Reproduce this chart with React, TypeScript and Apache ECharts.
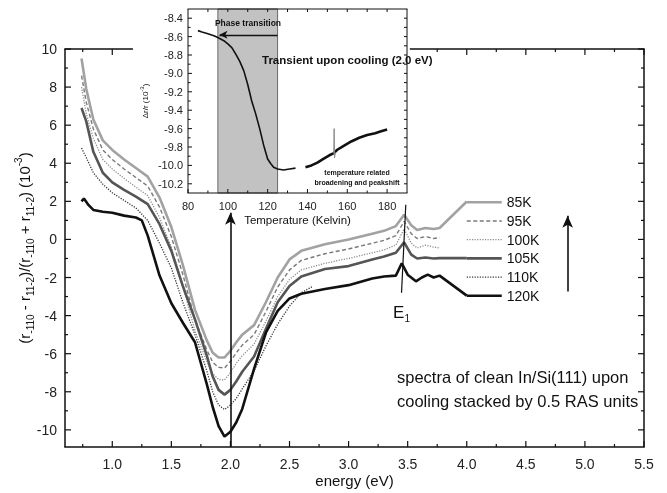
import React, { useEffect, useRef } from "react";
import * as echarts from "echarts";

// ---------- main spectra (energy in eV, RAS in 10^-3) ----------
const energyGrid = [0.74, 0.78, 0.84, 0.92, 1.0, 1.1, 1.2, 1.3, 1.4, 1.5, 1.6, 1.7, 1.8, 1.85, 1.9, 1.95, 2.0, 2.05, 2.1, 2.2, 2.3, 2.4, 2.5, 2.6, 2.8, 3.0, 3.2, 3.3, 3.4, 3.47, 3.53, 3.58, 3.65, 3.72, 3.77];
const ras85 = [9.5, 7.9, 6.3, 5.2, 4.7, 4.2, 3.75, 3.3, 2.2, 0.65, -1.4, -3.7, -5.3, -5.95, -6.2, -6.2, -5.85, -5.4, -5.0, -4.5, -3.3, -2.0, -1.05, -0.6, -0.25, 0.0, 0.3, 0.45, 0.7, 1.3, 0.75, 0.5, 0.6, 0.55, 0.6];
const ras95 = [8.6, 7.2, 5.8, 4.7, 4.2, 3.7, 3.25, 2.8, 1.7, 0.15, -1.9, -4.2, -5.8, -6.45, -6.72, -6.75, -6.4, -5.95, -5.55, -5.0, -3.8, -2.5, -1.6, -1.1, -0.75, -0.5, -0.2, -0.05, 0.2, 0.95, 0.3, 0.05, 0.15, 0.05, 0.1];
const ras100 = [8.0, 6.6, 5.3, 4.2, 3.7, 3.2, 2.75, 2.3, 1.15, -0.4, -2.5, -4.8, -6.4, -7.05, -7.35, -7.38, -7.0, -6.5, -6.1, -5.5, -4.3, -3.0, -2.1, -1.6, -1.25, -1.0, -0.7, -0.55, -0.3, 0.55, -0.2, -0.45, -0.3, -0.4, -0.45];
const ras105 = [6.9, 6.2, 4.6, 3.5, 3.0, 2.6, 2.25, 1.85, 0.8, -0.6, -2.5, -4.2, -6.1, -7.2, -7.9, -8.15, -7.9, -7.45, -6.95, -6.15, -4.7, -3.3, -2.45, -1.95, -1.55, -1.4, -1.05, -0.9, -0.7, -0.15, -0.8, -1.0, -0.95, -1.0, -0.98];

const energy110 = [0.74, 0.78, 0.84, 0.92, 1.0, 1.1, 1.2, 1.3, 1.4, 1.5, 1.6, 1.7, 1.8, 1.85, 1.9, 1.95, 2.0, 2.05, 2.1, 2.2, 2.3, 2.4, 2.5, 2.6, 2.7];
const ras110 = [4.8, 4.3, 3.5, 2.9, 2.45, 2.05, 1.65, 1.0, -0.2, -1.5, -3.35, -5.0, -6.9, -8.0, -8.7, -8.93, -8.7, -8.35, -7.85, -6.9, -5.6, -4.45, -3.5, -2.8, -2.45];

const energy120 = [0.74, 0.76, 0.8, 0.84, 0.92, 1.0, 1.1, 1.2, 1.25, 1.3, 1.35, 1.4, 1.5, 1.6, 1.7, 1.8, 1.85, 1.9, 1.95, 2.0, 2.05, 2.1, 2.2, 2.3, 2.4, 2.5, 2.6, 2.8, 3.0, 3.2, 3.3, 3.4, 3.45, 3.5, 3.57, 3.62, 3.67, 3.72, 3.77];
const ras120 = [2.0, 2.15, 1.8, 1.55, 1.45, 1.4, 1.25, 1.15, 1.0, 0.2, -0.85, -1.9, -3.35, -4.4, -5.4, -7.6, -8.8, -9.8, -10.35, -10.1, -9.6, -8.9, -6.8, -4.9, -3.75, -3.1, -2.85, -2.6, -2.4, -2.05, -1.95, -1.9, -1.25, -1.85, -2.2, -2.0, -1.85, -2.0, -1.9];

// connecting segments from the curves to the legend samples
const tailEnergy85 = [4.0];
const tailRas85 = [1.99];
const tailEnergy105 = [4.0];
const tailRas105 = [-0.98];
const tailEnergy120 = [4.0];
const tailRas120 = [-2.95];

const seriesNames = ["85K", "95K", "100K", "105K", "110K", "120K"];
const seriesColors = ["#a2a2a2", "#7a7a7a", "#8c8c8c", "#555555", "#333333", "#111111"];
const seriesWidths = [2.6, 1.4, 1.3, 2.6, 1.3, 2.6];
const seriesDash: (number[] | null)[] = [null, [4, 2.5], [1.2, 1.4], null, [1.2, 1.4], null];

// axis ticks
const xMajor = [1.0, 1.5, 2.0, 2.5, 3.0, 3.5, 4.0, 4.5, 5.0, 5.5];
const xMinor = [0.75, 1.25, 1.75, 2.25, 2.75, 3.25, 3.75, 4.25, 4.75, 5.25];
const yMajor = [-10, -8, -6, -4, -2, 0, 2, 4, 6, 8, 10];
const yMinor = [-9, -7, -5, -3, -1, 1, 3, 5, 7, 9];

// ---------- inset: transient upon cooling ----------
const tempCool1 = [85, 87, 90, 93, 95, 98, 100, 102, 104, 106, 108, 110, 112, 114, 116, 118, 120, 121.5, 123, 125, 128, 131, 134];
const drCool1 = [-8.535, -8.55, -8.57, -8.59, -8.61, -8.645, -8.68, -8.72, -8.79, -8.87, -8.97, -9.12, -9.3, -9.44, -9.6, -9.78, -9.93, -9.98, -10.02, -10.04, -10.05, -10.04, -10.03];
const tempCool2 = [139, 142, 145, 148, 151, 153, 155, 158, 162, 166, 170, 174, 177, 180];
const drCool2 = [-10.02, -10.0, -9.97, -9.93, -9.89, -9.87, -9.83, -9.79, -9.74, -9.7, -9.67, -9.65, -9.63, -9.61];
const tempSpike = [153.2, 153.4, 153.6, 154.0];
const drSpike = [-9.87, -9.6, -9.92, -9.86];
const phaseBand = [95, 125];

const tMajor = [80, 100, 120, 140, 160, 180];
const tMinor = [90, 110, 130, 150, 170];
const tTop = [90, 100, 110, 120, 130, 140, 150, 160, 170, 180];
const dMajor = [-10.2, -10.0, -9.8, -9.6, -9.4, -9.2, -9.0, -8.8, -8.6, -8.4];
const dMinor = [-10.1, -9.9, -9.7, -9.5, -9.3, -9.1, -8.9, -8.7, -8.5];
const dRight = [-10.2, -10.1, -10.0, -9.9, -9.8, -9.7, -9.6, -9.5, -9.4, -9.3, -9.2, -9.1, -9.0, -8.9, -8.8, -8.7, -8.6, -8.5, -8.4];

const FONT = '"Liberation Sans", Arial, Helvetica, sans-serif';
const INK = "#111111";

// axis extents and grid boxes
const MAIN = { xMin: 0.6, xMax: 5.5, yMin: -10.9, yMax: 10, left: 65, right: 23, top: 49, bottom: 46 };
const INSET = { xMin: 80, xMax: 190, yMin: -10.3, yMax: -8.3, left: 188, right: 260, top: 9, bottom: 300 };
const W = 667;
const H = 493;
// the main frame's top edge is hidden behind the inset between these energies
const TOP_GAP = [1.175, 3.518];

function pairs(xs: number[], ys: number[]) {
  return xs.map((x, i) => [x, ys[i]]);
}

export default function App() {
  const ref = useRef<HTMLDivElement>(null);

  useEffect(() => {
    const chart = echarts.init(ref.current!, null, { renderer: "svg" });

    const arrowStyle = { color: INK, width: 1.6, type: "solid" };

    const mainSeries = seriesNames.map((name, i) => {
      let data: number[][];
      if (name === "85K") data = [...pairs(energyGrid, ras85), ...pairs(tailEnergy85, tailRas85)];
      else if (name === "95K") data = pairs(energyGrid, ras95);
      else if (name === "100K") data = pairs(energyGrid, ras100);
      else if (name === "105K") data = [...pairs(energyGrid, ras105), ...pairs(tailEnergy105, tailRas105)];
      else if (name === "110K") data = pairs(energy110, ras110);
      else data = [...pairs(energy120, ras120), ...pairs(tailEnergy120, tailRas120)];
      const s: any = {
        name,
        type: "line",
        xAxisIndex: 0,
        yAxisIndex: 0,
        symbol: "none",
        data,
        lineStyle: { color: seriesColors[i], width: seriesWidths[i], type: seriesDash[i] || "solid" },
        itemStyle: { color: seriesColors[i] },
      };
      if (name === "120K") {
        s.markLine = {
          silent: true,
          animation: false,
          symbol: ["none", "none"],
          label: { show: false },
          data: [
            [
              { coord: [2.0, MAIN.yMin], symbol: "none", lineStyle: arrowStyle },
              { coord: [2.0, 1.4], symbol: "arrow", symbolSize: [8, 12] },
            ],
            [
              { coord: [4.854, -2.74], symbol: "none", lineStyle: arrowStyle },
              { coord: [4.854, 1.24], symbol: "arrow", symbolSize: [8, 12] },
            ],
            [
              { coord: [3.484, 1.82], symbol: "none", lineStyle: { color: INK, width: 1.2, type: "solid" } },
              { coord: [3.448, -2.8], symbol: "none" },
            ],
          ],
        };
      }
      return s;
    });

    const hidden = { show: false, onZero: false };

    const option: any = {
      animation: false,
      grid: [
        { left: MAIN.left, right: MAIN.right, top: MAIN.top, bottom: MAIN.bottom },
        { left: INSET.left, right: INSET.right, top: INSET.top, bottom: INSET.bottom },
      ],
      xAxis: [
        {
          type: "value",
          gridIndex: 0,
          min: MAIN.xMin,
          max: MAIN.xMax,
          position: "bottom",
          axisLine: hidden,
          axisTick: { show: false },
          splitLine: { show: false },
          axisLabel: {
            show: true,
            customValues: xMajor,
            formatter: (v: number) => v.toFixed(1),
            fontSize: 14,
            fontFamily: FONT,
            color: "#222",
            margin: 10,
          },
          name: "energy (eV)",
          nameLocation: "middle",
          nameGap: 26,
          nameMoveOverlap: false,
          nameTextStyle: { fontSize: 15, color: INK, fontFamily: FONT },
        },
        {
          type: "value",
          gridIndex: 1,
          min: INSET.xMin,
          max: INSET.xMax,
          position: "bottom",
          axisLine: hidden,
          axisTick: { show: false },
          splitLine: { show: false },
          axisLabel: {
            show: true,
            customValues: tMajor,
            formatter: (v: number) => String(v),
            fontSize: 11,
            fontFamily: FONT,
            color: "#222",
            margin: 7,
          },
          name: "Temperature (Kelvin)",
          nameLocation: "middle",
          nameGap: 21,
          nameMoveOverlap: false,
          nameTextStyle: { fontSize: 11.5, color: INK, fontFamily: FONT },
        },
      ],
      yAxis: [
        {
          type: "value",
          gridIndex: 0,
          min: MAIN.yMin,
          max: MAIN.yMax,
          position: "left",
          axisLine: hidden,
          axisTick: { show: false },
          splitLine: { show: false },
          axisLabel: {
            show: true,
            customValues: yMajor,
            formatter: (v: number) => String(v),
            fontSize: 14,
            fontFamily: FONT,
            color: "#222",
            margin: 8,
          },
          name: "(r{sub|-110} - r{sub|11-2})/(r{sub|-110} + r{sub|11-2}) (10{sup|-3})",
          nameLocation: "middle",
          nameRotate: 90,
          nameGap: 30,
          nameMoveOverlap: false,
          nameTextStyle: {
            fontSize: 15,
            fontFamily: FONT,
            color: INK,
            lineHeight: 22,
            rich: {
              sub: { fontSize: 10, fontFamily: FONT, verticalAlign: "bottom", color: INK },
              sup: { fontSize: 10, fontFamily: FONT, verticalAlign: "top", color: INK },
            },
          },
        },
        {
          type: "value",
          gridIndex: 1,
          min: INSET.yMin,
          max: INSET.yMax,
          position: "left",
          axisLine: hidden,
          axisTick: { show: false },
          splitLine: { show: false },
          axisLabel: {
            show: true,
            customValues: dMajor,
            formatter: (v: number) => v.toFixed(1),
            fontSize: 11,
            fontFamily: FONT,
            color: "#222",
            margin: 5,
          },
          name: "\u0394r/r (10{sup|-3})",
          nameLocation: "middle",
          nameRotate: 90,
          nameGap: 37,
          nameMoveOverlap: false,
          nameTextStyle: {
            fontSize: 8,
            fontFamily: FONT,
            color: INK,
            lineHeight: 12,
            rich: { sup: { fontSize: 6, fontFamily: FONT, verticalAlign: "top", color: INK } },
          },
        },
      ],
      series: [
        ...mainSeries,
        {
          name: "cooling transient",
          type: "line",
          xAxisIndex: 1,
          yAxisIndex: 1,
          z: 11,
          symbol: "none",
          data: pairs(tempCool1, drCool1),
          lineStyle: { color: INK, width: 1.6 },
          itemStyle: { color: INK },
          markArea: {
            silent: true,
            itemStyle: { color: "#c2c2c2", borderColor: "#6a6a6a", borderWidth: 1 },
            data: [[{ xAxis: phaseBand[0], yAxis: INSET.yMin }, { xAxis: phaseBand[1], yAxis: INSET.yMax }]],
          },
          markLine: {
            silent: true,
            animation: false,
            symbol: ["none", "none"],
            label: { show: false },
            data: [
              [
                { coord: [phaseBand[1], -8.58], symbol: "none", lineStyle: { color: INK, width: 1.3, type: "solid" } },
                { coord: [phaseBand[0] + 0.8, -8.58], symbol: "arrow", symbolSize: [6, 8] },
              ],
            ],
          },
        },
        {
          name: "cooling transient 2",
          type: "line",
          xAxisIndex: 1,
          yAxisIndex: 1,
          z: 11,
          symbol: "none",
          data: pairs(tempCool2, drCool2),
          lineStyle: { color: INK, width: 2.6 },
        },
        {
          name: "spike",
          type: "line",
          xAxisIndex: 1,
          yAxisIndex: 1,
          z: 12,
          symbol: "none",
          data: pairs(tempSpike, drSpike),
          lineStyle: { color: "#8a8a8a", width: 1 },
        },
      ],
    };

    chart.setOption(option);

    // ---- pixel positions through the grid's scales (linear fallback) ----
    const toPix = (gi: number, box: typeof MAIN, x: number, y: number): [number, number] => {
      let p: any = null;
      try {
        p = chart.convertToPixel({ gridIndex: gi } as any, [x, y]);
      } catch (e) {
        p = null;
      }
      if (p && isFinite(p[0]) && isFinite(p[1])) return [p[0], p[1]];
      const gw = W - box.left - box.right;
      const gh = H - box.top - box.bottom;
      return [
        box.left + ((x - box.xMin) / (box.xMax - box.xMin)) * gw,
        box.top + ((box.yMax - y) / (box.yMax - box.yMin)) * gh,
      ];
    };

    const g: any[] = [];
    const seg = (x1: number, y1: number, x2: number, y2: number, w: number) =>
      g.push({
        type: "line",
        zlevel: 1,
        z: 100,
        silent: true,
        shape: { x1, y1, x2, y2 },
        style: { stroke: INK, lineWidth: w },
      });

    // main frame (top edge interrupted by the inset) and inward ticks
    const [L, T] = toPix(0, MAIN, MAIN.xMin, MAIN.yMax);
    const [R, B] = toPix(0, MAIN, MAIN.xMax, MAIN.yMin);
    const gapL = toPix(0, MAIN, TOP_GAP[0], 0)[0];
    const gapR = toPix(0, MAIN, TOP_GAP[1], 0)[0];
    seg(L - 0.75, T, gapL, T, 1.5);
    seg(gapR, T, R + 0.75, T, 1.5);
    seg(L, T, L, B, 1.5);
    seg(R, T, R, B, 1.5);
    seg(L - 0.75, B, R + 0.75, B, 1.5);
    const xt = (v: number, len: number) => {
      const x = toPix(0, MAIN, v, 0)[0];
      seg(x, B, x, B - len, 1.2);
      if (x < gapL || x > gapR) seg(x, T, x, T + len, 1.2);
    };
    xMajor.forEach((v) => xt(v, 6));
    xMinor.forEach((v) => xt(v, 3));
    const yt = (v: number, len: number) => {
      const y = toPix(0, MAIN, MAIN.xMin, v)[1];
      seg(L, y, L + len, y, 1.2);
      seg(R, y, R - len, y, 1.2);
    };
    yMajor.forEach((v) => yt(v, 6));
    yMinor.forEach((v) => yt(v, 3));

    // inset frame and ticks
    const [iL, iT] = toPix(1, INSET, INSET.xMin, INSET.yMax);
    const [iR, iB] = toPix(1, INSET, INSET.xMax, INSET.yMin);
    seg(iL - 0.5, iT, iR + 0.5, iT, 1);
    seg(iL - 0.5, iB, iR + 0.5, iB, 1);
    seg(iL, iT, iL, iB, 1);
    seg(iR, iT, iR, iB, 1);
    const ix = (v: number) => toPix(1, INSET, v, INSET.yMin)[0];
    const iy = (v: number) => toPix(1, INSET, INSET.xMin, v)[1];
    tMajor.forEach((v) => seg(ix(v), iB, ix(v), iB - 4, 1));
    tMinor.forEach((v) => seg(ix(v), iB, ix(v), iB - 2.5, 1));
    tTop.forEach((v) => seg(ix(v), iT, ix(v), iT + 3, 1));
    dMajor.forEach((v) => seg(iL, iy(v), iL + 4, iy(v), 1));
    dMinor.forEach((v) => seg(iL, iy(v), iL + 2.5, iy(v), 1));
    dRight.forEach((v) => seg(iR, iy(v), iR - 3, iy(v), 1));

    // legend samples (line + label), starting where the curve tails end
    const legendTop = 202.3;
    const legendStep = 18.7;
    const legendX = toPix(0, MAIN, 4.0, 0)[0];
    seriesNames.forEach((name, i) => {
      const y = legendTop + i * legendStep;
      g.push({
        type: "line",
        z: 20,
        silent: true,
        shape: { x1: legendX, y1: y, x2: legendX + 35, y2: y },
        style: { stroke: seriesColors[i], lineWidth: seriesWidths[i], lineDash: seriesDash[i] || [] },
      });
      g.push({
        type: "text",
        z: 20,
        x: legendX + 40,
        y,
        style: { text: name, font: `14px ${FONT}`, fill: INK, textAlign: "left", textVerticalAlign: "middle" },
      });
    });

    const txt = (text: string, x: number, y: number, font: string, align = "left") =>
      g.push({
        type: "text",
        z: 40,
        x,
        y,
        style: { text, font, fill: INK, textAlign: align, textVerticalAlign: "middle" },
      });
    txt("Phase transition", 248, 23, `bold 8.5px ${FONT}`, "center");
    txt("Transient upon cooling (2.0 eV)", 262, 60, `bold 11.5px ${FONT}`);
    txt("temperature related", 357, 172, `bold 7px ${FONT}`, "center");
    txt("broadening and peakshift", 357, 182, `bold 7px ${FONT}`, "center");
    txt("E", 393, 312, `17px ${FONT}`);
    txt("1", 404.5, 318, `10px ${FONT}`);
    txt("spectra of clean In/Si(111) upon", 397, 377, `16.5px ${FONT}`);
    txt("cooling stacked by 0.5 RAS units", 397, 401, `16.5px ${FONT}`);

    chart.setOption({ graphic: g });

    return () => chart.dispose();
  }, []);

  return <div ref={ref} style={{ position: "fixed", left: 0, top: 0, width: 667, height: 493 }} />;
}
